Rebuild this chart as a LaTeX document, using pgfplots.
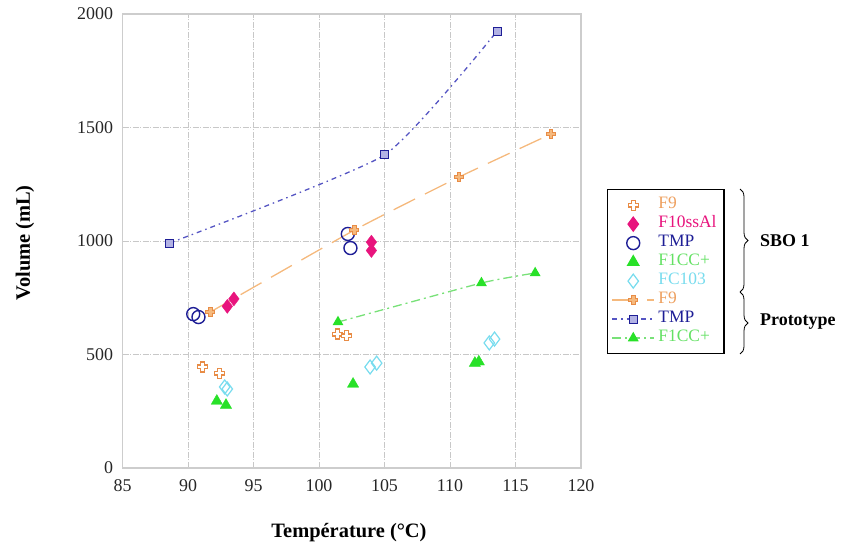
\documentclass[border=0pt]{standalone}
\usepackage{pgfplots}
\pgfplotsset{compat=1.18}
\usepackage{fontspec}
\setmainfont{Liberation Serif}
\usetikzlibrary{decorations.pathreplacing}

\definecolor{orF}{RGB}{232,140,70}
\definecolor{orT}{RGB}{238,160,95}
\definecolor{orL}{RGB}{245,185,125}
\definecolor{pinkF}{RGB}{232,20,125}
\definecolor{navy}{RGB}{30,30,150}
\definecolor{tmpL}{RGB}{85,85,195}
\definecolor{grn}{RGB}{40,225,40}
\definecolor{grnT}{RGB}{100,225,100}
\definecolor{grnL}{RGB}{120,225,120}
\definecolor{cyn}{RGB}{120,220,238}
\definecolor{gridc}{RGB}{200,200,200}
\definecolor{framec}{RGB}{205,205,205}

\pgfdeclareplotmark{hplus}{%
  \pgfpathmoveto{\pgfpoint{-0.38\pgfplotmarksize}{\pgfplotmarksize}}%
  \pgfpathlineto{\pgfpoint{0.38\pgfplotmarksize}{\pgfplotmarksize}}%
  \pgfpathlineto{\pgfpoint{0.38\pgfplotmarksize}{0.38\pgfplotmarksize}}%
  \pgfpathlineto{\pgfpoint{\pgfplotmarksize}{0.38\pgfplotmarksize}}%
  \pgfpathlineto{\pgfpoint{\pgfplotmarksize}{-0.38\pgfplotmarksize}}%
  \pgfpathlineto{\pgfpoint{0.38\pgfplotmarksize}{-0.38\pgfplotmarksize}}%
  \pgfpathlineto{\pgfpoint{0.38\pgfplotmarksize}{-\pgfplotmarksize}}%
  \pgfpathlineto{\pgfpoint{-0.38\pgfplotmarksize}{-\pgfplotmarksize}}%
  \pgfpathlineto{\pgfpoint{-0.38\pgfplotmarksize}{-0.38\pgfplotmarksize}}%
  \pgfpathlineto{\pgfpoint{-\pgfplotmarksize}{-0.38\pgfplotmarksize}}%
  \pgfpathlineto{\pgfpoint{-\pgfplotmarksize}{0.38\pgfplotmarksize}}%
  \pgfpathlineto{\pgfpoint{-0.38\pgfplotmarksize}{0.38\pgfplotmarksize}}%
  \pgfpathclose
  \pgfusepathqfillstroke}

\begin{document}
\begin{tikzpicture}
\useasboundingbox (0,0) rectangle (845bp,551bp);
\begin{axis}[
  at={(122.5bp,83bp)}, anchor=south west,
  scale only axis, width=458.5bp, height=454bp,
  xmin=85, xmax=120, ymin=0, ymax=2000,
  xtick={85,90,...,120}, ytick={0,500,...,2000},
  major tick length=0pt,
  grid=major,
  grid style={gridc, line width=0.9bp, dash pattern=on 6bp off 1.5bp on 1bp off 1.5bp},
  axis line style={framec, line width=1.8bp},
  /pgf/number format/assume math mode=true,
  /pgf/number format/1000 sep={},
  tick label style={font=\fontsize{18}{20}\selectfont, text=black!85},
  yticklabel style={xshift=-6bp},
  xticklabel style={yshift=-8bp},
  xlabel={Température (°C)},
  ylabel={Volume (mL)},
  label style={font=\bfseries\fontsize{20.5}{22}\selectfont},
  xlabel style={at={(axis description cs:0.494,-0.1432)}, anchor=center},
  ylabel style={at={(axis description cs:-0.2127,0.4956)}, anchor=center, rotate=0},
  legend image code/.code={%
    \draw[mark repeat=2,mark phase=2,#1]
      plot coordinates {(0bp,0bp) (21bp,0bp) (42bp,0bp)};},
  legend cell align=left,
  legend style={at={(axis description cs:1.0567,0.6145)}, anchor=north west,
    draw=black, line width=1.2bp, fill=white,
    inner xsep=4bp, inner ysep=6bp,
    font=\fontsize{17.5}{19}\selectfont,
    nodes={inner ysep=2bp, inner xsep=3.5bp, text height=11bp, text depth=4bp}},
]
% ---- SBO 1 ----
\addplot[only marks, mark=hplus, mark size=5bp, mark options={draw=orF, fill=white, line width=1.2bp}]
  coordinates {(91.1,445) (92.4,418) (101.4,590) (102.1,582)};
\addlegendentry{\textcolor{orT}{F9}}
\addplot[only marks, mark=diamond*, mark size=7bp, mark options={draw=pinkF, fill=pinkF}]
  coordinates {(93.0,712) (93.5,745) (104.0,995) (104.0,958)};
\addlegendentry{\textcolor{pinkF}{F10ssAl}}
\addplot[only marks, mark=o, mark size=6.5bp, mark options={draw=navy, line width=1.4bp}]
  coordinates {(90.4,678) (90.8,665) (102.2,1031) (102.4,969)};
\addlegendentry{\textcolor{navy}{TMP}}
\addplot[only marks, mark=triangle*, mark size=6.5bp, mark options={draw=grn, fill=grn}]
  coordinates {(92.2,295) (92.9,277) (102.6,370) (111.9,462) (112.2,468)};
\addlegendentry{\textcolor{grnT}{F1CC+}}
\addplot[only marks, mark=diamond, mark size=7bp, mark options={draw=cyn, line width=1.2bp}]
  coordinates {(92.8,357) (93.0,348) (103.9,445) (104.4,462) (113.0,551) (113.4,568)};
\addlegendentry{\textcolor{cyn}{FC103}}
% ---- Prototype ----
\addplot[smooth, tension=0.3, orL, line width=1.3bp, dash pattern=on 24bp off 11bp,
  mark=hplus, mark size=4.5bp, mark options={solid, draw=orF, fill=orL, line width=0.9bp}]
  coordinates {(91.7,687) (102.7,1048) (110.7,1282) (117.7,1471)};
\addlegendentry{\textcolor{orT}{F9}}
\addplot[smooth, tension=0.3, tmpL, line width=1.3bp, dash pattern=on 5bp off 4bp on 1.5bp off 4bp,
  mark=square*, mark size=4bp, mark options={solid, draw=navy, fill=tmpL!45, line width=1bp}]
  coordinates {(88.6,991) (105,1379) (113.6,1925)};
\addlegendentry{\textcolor{navy}{TMP}}
\addplot[smooth, tension=0.3, grnL, line width=1.3bp, dash pattern=on 9bp off 4bp on 2bp off 4bp,
  mark=triangle*, mark size=5bp, mark options={solid, draw=grn, fill=grn}]
  coordinates {(101.45,643) (112.4,815) (116.5,859)};
\addlegendentry{\textcolor{grnT}{F1CC+}}
\end{axis}
\draw[decorate, decoration={brace, amplitude=8bp}, line width=0.8bp] (740bp,362bp) -- (740bp,259bp);
\draw[decorate, decoration={brace, amplitude=8bp}, line width=0.8bp] (740bp,259bp) -- (740bp,197bp);
\node[anchor=west, font=\bfseries\fontsize{18}{20}\selectfont, inner sep=0pt] at (760bp,310bp) {SBO 1};
\node[anchor=west, font=\bfseries\fontsize{18}{20}\selectfont, inner sep=0pt] at (760bp,229bp) {Prototype};
\end{tikzpicture}
\end{document}
